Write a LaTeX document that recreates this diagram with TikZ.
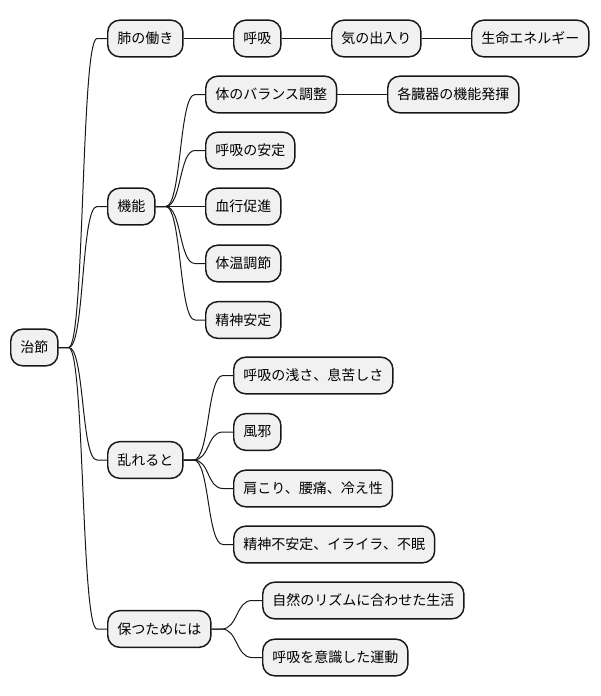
\documentclass[tikz,border=0pt]{standalone}
\usepackage{fontspec}
\setmainfont{Noto Sans CJK JP}
\usepackage{tikz}
\usetikzlibrary{calc}
\definecolor{fondNoeud}{HTML}{F1F1F1}
\definecolor{traitNoeud}{HTML}{181818}

\begin{document}
\begin{tikzpicture}[x=0.75pt, y=-0.75pt,
  topic/.style={rectangle, rounded corners=9pt, draw=traitNoeud,
    fill=fondNoeud, line width=1.1pt, minimum height=27.5pt,
    inner xsep=7.2pt, anchor=west, font=\fontsize{10.5}{12}\selectfont},
  link/.style={draw=traitNoeud, line width=0.75pt},
]
\useasboundingbox (0,0) rectangle (600,696);
% racine
\node[topic] (jisetsu) at (10, 347.5) {治節};
% premier niveau
\node[topic] (hai)     at (107, 38.5) {肺の働き};
\node[topic] (kino)    at (107, 206.5) {機能};
\node[topic] (midare)  at (107, 460) {乱れると};
\node[topic] (tamotsu) at (107, 629) {保つためには};
% chaine du poumon
\node[topic] (kokyu)  at (233, 38.5) {呼吸};
\node[topic] (ki)     at (331, 38.5) {気の出入り};
\node[topic] (seimei) at (471, 38.5) {生命エネルギー};
% fonctions
\node[topic] (balance) at (205, 94.5)  {体のバランス調整};
\node[topic] (zoki)    at (387, 94.5)  {各臓器の機能発揮};
\node[topic] (antei)   at (205, 150.5) {呼吸の安定};
\node[topic] (kekko)   at (205, 206.5) {血行促進};
\node[topic] (taion)   at (205, 263.5) {体温調節};
\node[topic] (seishin) at (205, 320)   {精神安定};
% troubles
\node[topic] (asasa)    at (233, 375.5) {呼吸の浅さ、息苦しさ};
\node[topic] (kaze)     at (233, 432)   {風邪};
\node[topic] (katakori) at (233, 488.5) {肩こり、腰痛、冷え性};
\node[topic] (fuan)     at (233, 544.5) {精神不安定、イライラ、不眠};
% entretien
\node[topic] (rhythm) at (262, 600.5) {自然のリズムに合わせた生活};
\node[topic] (undo)   at (262, 657.5) {呼吸を意識した運動};

% liaisons droites
\draw[link] (hai) -- (kokyu);
\draw[link] (kokyu) -- (ki);
\draw[link] (ki) -- (seimei);
\draw[link] (balance) -- (zoki);
% liaisons courbes
\foreach \kid in {hai, kino, midare, tamotsu}
  \draw[link] (jisetsu.east) -- ++(10,0)
    .. controls +(16,0) and +(-16,0) .. ($(\kid.west)+(-10,0)$) -- (\kid.west);
\foreach \kid in {balance, antei, kekko, taion, seishin}
  \draw[link] (kino.east) -- ++(10,0)
    .. controls +(16,0) and +(-16,0) .. ($(\kid.west)+(-10,0)$) -- (\kid.west);
\foreach \kid in {asasa, kaze, katakori, fuan}
  \draw[link] (midare.east) -- ++(10,0)
    .. controls +(16,0) and +(-16,0) .. ($(\kid.west)+(-10,0)$) -- (\kid.west);
\foreach \kid in {rhythm, undo}
  \draw[link] (tamotsu.east) -- ++(10,0)
    .. controls +(16,0) and +(-16,0) .. ($(\kid.west)+(-10,0)$) -- (\kid.west);
\end{tikzpicture}
\end{document}
